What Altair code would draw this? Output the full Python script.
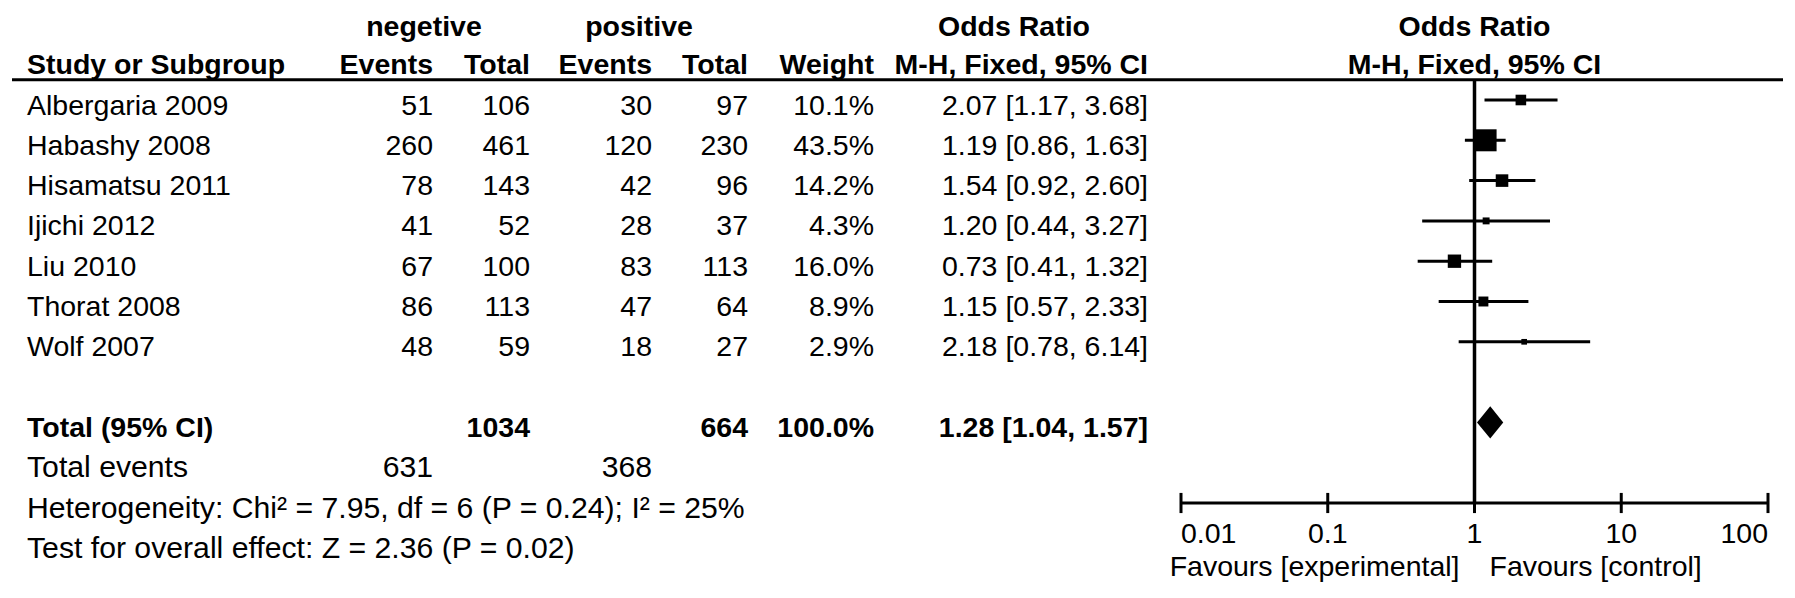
import altair as alt
import pandas as pd

# ---------------- data ----------------
studies = ["Albergaria 2009", "Habashy 2008", "Hisamatsu 2011", "Ijichi 2012",
           "Liu 2010", "Thorat 2008", "Wolf 2007"]
neg_events = [51, 260, 78, 41, 67, 86, 48]
neg_total = [106, 461, 143, 52, 100, 113, 59]
pos_events = [30, 120, 42, 28, 83, 47, 18]
pos_total = [97, 230, 96, 37, 113, 64, 27]
weights = [10.1, 43.5, 14.2, 4.3, 16.0, 8.9, 2.9]
or_est = [2.07, 1.19, 1.54, 1.20, 0.73, 1.15, 2.18]
ci_low = [1.17, 0.86, 0.92, 0.44, 0.41, 0.57, 0.78]
ci_high = [3.68, 1.63, 2.60, 3.27, 1.32, 2.33, 6.14]

total_label = "Total (95% CI)"
total_neg = 1034
total_pos = 664
total_weight = 100.0
total_or = 1.28
total_lo = 1.04
total_hi = 1.57
events_label = "Total events"
events_neg = 631
events_pos = 368
heterogeneity = "Heterogeneity: Chi² = 7.95, df = 6 (P = 0.24); I² = 25%"
overall = "Test for overall effect: Z = 2.36 (P = 0.02)"

group_labels = ["negetive", "positive"]
col_headers = ["Study or Subgroup", "Events", "Total", "Events", "Total",
               "Weight", "M-H, Fixed, 95% CI"]
or_header = ["Odds Ratio", "M-H, Fixed, 95% CI"]
tick_values = [0.01, 0.1, 1, 10, 100]
tick_labels = ["0.01", "0.1", "1", "10", "100"]
favours = ["Favours [experimental]", "Favours [control]"]

# ---------------- layout ----------------
W, H = 1779, 578
ROW0, ROW_H = 92.0, 40.3
FONT, FS, DY = "Liberation Sans", 28.5, 5.5
FS_FOOT = 30.2
DY_GRP = 7.5
DY_HDR = 5.5

yscale = alt.Scale(domain=[-ROW0 / ROW_H, (H - ROW0) / ROW_H], range=[0, H],
                   nice=False, zero=False)
xscale = alt.Scale(type="log", domain=[0.01, 100], range=[1173, 1760], nice=False)
sscale = alt.Scale(domain=[0, 43.5], range=[0, 484], zero=True)

NAME_X, NE_X, NT_X, PE_X, PT_X, W_X, CI_X = 19, 425, 522, 644, 740, 866, 1140
NEG_HDR, POS_HDR, OR_HDR = 416, 631, 1006


def Y(f):
    return alt.Y(f, type="quantitative", scale=yscale, axis=None)


def X(f):
    return alt.X(f, type="quantitative", scale=xscale, axis=None)


def txt(df, field, x, align, bold=False, dy=DY, size=FS):
    return alt.Chart(df).mark_text(
        align=align, baseline="middle", font=FONT, fontSize=size,
        fontWeight="bold" if bold else "normal", dy=dy, color="black"
    ).encode(x=alt.value(x), y=Y("row"), text=alt.Text(field, type="nominal"))


n = len(studies)
study_df = pd.DataFrame({
    "row": list(range(n)),
    "name": studies,
    "ne": [str(v) for v in neg_events],
    "nt": [str(v) for v in neg_total],
    "pe": [str(v) for v in pos_events],
    "pt": [str(v) for v in pos_total],
    "w": [f"{v:.1f}%" for v in weights],
    "ci": [f"{o:.2f} [{l:.2f}, {h:.2f}]" for o, l, h in zip(or_est, ci_low, ci_high)],
    "weight": weights,
    "or": or_est,
    "lo": ci_low,
    "hi": ci_high,
})

TOTAL_ROW = n + 1
total_df = pd.DataFrame({
    "row": [TOTAL_ROW],
    "name": [total_label],
    "nt": [str(total_neg)],
    "pt": [str(total_pos)],
    "w": [f"{total_weight:.1f}%"],
    "ci": [f"{total_or:.2f} [{total_lo:.2f}, {total_hi:.2f}]"],
})
events_df = pd.DataFrame({"row": [TOTAL_ROW + 1], "name": [events_label],
                          "ne": [str(events_neg)], "pe": [str(events_pos)]})
foot_df = pd.DataFrame({"row": [TOTAL_ROW + 2, TOTAL_ROW + 3],
                        "name": [heterogeneity, overall]})

grp_df = pd.DataFrame({"row": [-2], "neg": [group_labels[0]], "pos": [group_labels[1]]})
hdr_df = pd.DataFrame([{"row": -1, **{f"h{i}": h for i, h in enumerate(col_headers)}}])
plot_grp_df = pd.DataFrame({"row": [-2], "or": [1], "label": [or_header[0]]})
plot_hdr_df = pd.DataFrame({"row": [-1], "or": [1], "label": [or_header[1]]})

AXIS_ROW = TOTAL_ROW + 2
diamond_df = pd.DataFrame({
    "x": [total_lo, total_or, total_hi],
    "y": [TOTAL_ROW, TOTAL_ROW - 0.4, TOTAL_ROW],
    "y2": [TOTAL_ROW, TOTAL_ROW + 0.4, TOTAL_ROW],
})
ref_df = pd.DataFrame({"or": [1], "top": [-0.5], "bottom": [AXIS_ROW]})
axis_df = pd.DataFrame({"lo": [tick_values[0]], "hi": [tick_values[-1]], "row": [AXIS_ROW]})
tick_df = pd.DataFrame({
    "value": tick_values, "label": tick_labels,
    "row": [AXIS_ROW] * len(tick_values),
    "top": [AXIS_ROW - 0.25] * len(tick_values),
    "bottom": [AXIS_ROW + 0.25] * len(tick_values),
    "anchor": ["left"] + ["center"] * (len(tick_values) - 2) + ["right"],
})
fav_df = pd.DataFrame({"or": [1, 1], "row": [AXIS_ROW, AXIS_ROW], "label": favours})
hline_df = pd.DataFrame({"row": [-0.5]})

layers = []
# header rule
layers.append(alt.Chart(hline_df).mark_rule(strokeWidth=3, color="black").encode(
    x=alt.value(4), x2=alt.value(1775), y=Y("row")))
# headers
layers.append(txt(grp_df, "neg", NEG_HDR, "center", True, DY_GRP))
layers.append(txt(grp_df, "pos", POS_HDR, "center", True, DY_GRP))
for i, (xx, al) in enumerate([(NAME_X, "left"), (NE_X, "right"), (NT_X, "right"),
                              (PE_X, "right"), (PT_X, "right"), (W_X, "right"),
                              (CI_X, "right")]):
    layers.append(txt(hdr_df, f"h{i}", xx, al, True, DY_HDR))
or_tab_df = pd.DataFrame({"row": [-2], "label": [or_header[0]]})
layers.append(txt(or_tab_df, "label", OR_HDR, "center", True, DY_GRP))
for dfh, dyh in [(plot_grp_df, DY_GRP), (plot_hdr_df, DY_HDR)]:
    layers.append(alt.Chart(dfh).mark_text(
        align="center", baseline="middle", font=FONT, fontSize=FS, fontWeight="bold",
        dy=dyh, color="black").encode(x=X("or"), y=Y("row"), text="label:N"))

# study rows
layers.append(txt(study_df, "name", NAME_X, "left"))
for f, xx in [("ne", NE_X), ("nt", NT_X), ("pe", PE_X), ("pt", PT_X), ("w", W_X), ("ci", CI_X)]:
    layers.append(txt(study_df, f, xx, "right"))
# total row
layers.append(txt(total_df, "name", NAME_X, "left", True))
for f, xx in [("nt", NT_X), ("pt", PT_X), ("w", W_X), ("ci", CI_X)]:
    layers.append(txt(total_df, f, xx, "right", True))
# footers
layers.append(txt(events_df, "name", NAME_X, "left", size=FS_FOOT))
layers.append(txt(events_df, "ne", NE_X, "right", size=FS_FOOT))
layers.append(txt(events_df, "pe", PE_X, "right", size=FS_FOOT))
layers.append(txt(foot_df, "name", NAME_X, "left", size=FS_FOOT))

# forest plot
layers.append(alt.Chart(ref_df).mark_rule(strokeWidth=3.5, color="black").encode(
    x=X("or"), y=Y("top"), y2="bottom"))
layers.append(alt.Chart(axis_df).mark_rule(strokeWidth=3, color="black").encode(
    x=X("lo"), x2="hi", y=Y("row")))
layers.append(alt.Chart(tick_df).mark_rule(strokeWidth=3, color="black").encode(
    x=X("value"), y=Y("top"), y2="bottom"))
for anchor in ["left", "center", "right"]:
    layers.append(alt.Chart(tick_df).transform_filter(
        alt.datum.anchor == anchor).mark_text(
        align=anchor, baseline="middle", font=FONT, fontSize=FS, dy=31,
        color="black").encode(x=X("value"), y=Y("row"), text="label:N"))
layers.append(alt.Chart(fav_df.iloc[[0]]).mark_text(
    align="right", baseline="middle", font=FONT, fontSize=FS, dy=64, dx=-15,
    color="black").encode(x=X("or"), y=Y("row"), text="label:N"))
layers.append(alt.Chart(fav_df.iloc[[1]]).mark_text(
    align="left", baseline="middle", font=FONT, fontSize=FS, dy=64, dx=15,
    color="black").encode(x=X("or"), y=Y("row"), text="label:N"))

layers.append(alt.Chart(study_df).mark_rule(strokeWidth=3, color="black").encode(
    x=X("lo"), x2="hi", y=Y("row")))
layers.append(alt.Chart(study_df).mark_point(
    shape="square", filled=True, opacity=1, color="black").encode(
    x=X("or"), y=Y("row"),
    size=alt.Size("weight", type="quantitative", scale=sscale, legend=None)))
layers.append(alt.Chart(diamond_df).mark_area(orient="vertical", color="black").encode(
    x=X("x"), y=Y("y"), y2="y2"))

chart = alt.layer(*layers).properties(
    width=W, height=H, padding=0,
    autosize=alt.AutoSizeParams(type="none"),
    background="white",
).configure_view(strokeWidth=0)

chart.save("out.html", embed_options={"renderer": "svg", "actions": False})
